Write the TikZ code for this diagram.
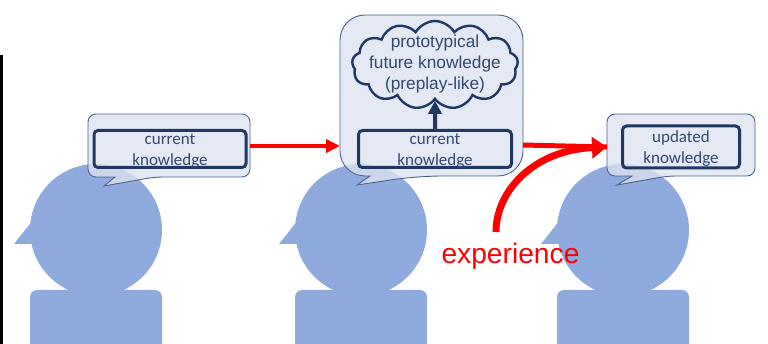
\documentclass[tikz,border=0pt]{standalone}
\usepackage{fontspec}
\setmainfont{Carlito}
\newfontfamily\arialfont{Liberation Sans}
\usetikzlibrary{shapes.symbols,arrows.meta}
\definecolor{headblue}{HTML}{8FAADC}
\definecolor{bubblefill}{HTML}{DCE3F1}
\definecolor{bubbleline}{HTML}{4A6490}
\definecolor{boxline}{HTML}{1F3864}
\definecolor{labelblue}{HTML}{33496F}
\newcommand{\knowlines}[2]{\raisebox{-2pt}[\height][\depth]{#1}\\\raisebox{-2pt}[\height][\depth]{#2}}

\begin{document}
\begin{tikzpicture}[x=1pt,y=-1pt,
  head/.style={shape=circle,fill=headblue,minimum size=132pt,inner sep=0pt},
  bubble/.style={draw=bubbleline,line width=0.9pt,fill=bubblefill,fill opacity=0.78},
  knowbox/.style={shape=rectangle,draw=boxline,line width=3pt,rounded corners=4pt,align=center,
    inner sep=0pt,text=labelblue,font=\fontsize{17}{21}\selectfont},
  redline/.style={draw=red,line width=4pt,-{Triangle[length=14pt,width=13pt]}}
]
\useasboundingbox (0,0) rectangle (768,344);
\fill[black] (0,55) rectangle (3,344);

\foreach \x/\name in {96/A,361/B,623/C} {
  \node[head] (head\name) at (\x,230) {};
  \fill[headblue] (\x-66,344) [rounded corners=7pt] -- (\x-66,290) -- (\x+66,290)
    [sharp corners] -- (\x+66,344) -- cycle;
  \fill[headblue] (\x-82,244) -- (\x-63,220) -- (\x-63,244) -- cycle;
}

\draw[bubble,rounded corners=8pt] (115,177) -- (88,177) -- (88,114) -- (250,114) -- (250,177) -- (155,177)
  [sharp corners] -- (104,186) -- cycle;
\draw[bubble,rounded corners=25pt] (370,176) -- (340,176) -- (340,15) -- (523,15) -- (523,176) -- (417,176)
  [sharp corners] -- (357,185) -- cycle;
\draw[bubble,rounded corners=8pt] (632,176) -- (607,176) -- (607,114) -- (755,114) -- (755,176) -- (668,176)
  [sharp corners] -- (617,185) -- cycle;

\node[knowbox,minimum width=152pt,minimum height=37pt] (knowA) at (170,149) {\knowlines{current}{knowledge}};
\node[knowbox,minimum width=153pt,minimum height=37pt] (knowB) at (435,149) {\knowlines{current}{knowledge}};
\node[knowbox,minimum width=117pt,minimum height=42pt] (knowC) at (681,147) {\knowlines{updated}{knowledge}};

\node[shape=cloud,draw=boxline,line width=2.4pt,cloud puffs=13,cloud puff arc=120,aspect=1.9,
  inner sep=0pt,minimum width=166pt,minimum height=88pt] (cloudB) at (435,65) {};
\node[align=center,text=labelblue,font=\arialfont\fontsize{17.3}{21}\selectfont] (cloudtext) at (435,64)
  {prototypical\\future knowledge\\(preplay-like)};

\draw[draw=boxline,line width=4pt,-{Triangle[length=13pt,width=13pt]}] (knowB.north) -- (cloudB.south);

\coordinate (exitA) at (250,146);
\coordinate (enterB) at (340,146);
\coordinate (exitB) at (523,145);
\coordinate (enterC) at (607,147);
\coordinate (expstart) at (496,232);

\draw[redline] (exitA) -- (enterB);
\draw[draw=red,line width=5pt] (exitB) -- (enterC);
\draw[draw=red,line width=7pt,-{Triangle[length=15pt,width=21pt,inset=0pt]}] (expstart)
  .. controls (496,190) and (535,150) .. (enterC);

\node[text=red,font=\arialfont\fontsize{28.2}{30}\selectfont,inner sep=0pt] (experience) at (510.5,256) {experience};
\end{tikzpicture}
\end{document}
